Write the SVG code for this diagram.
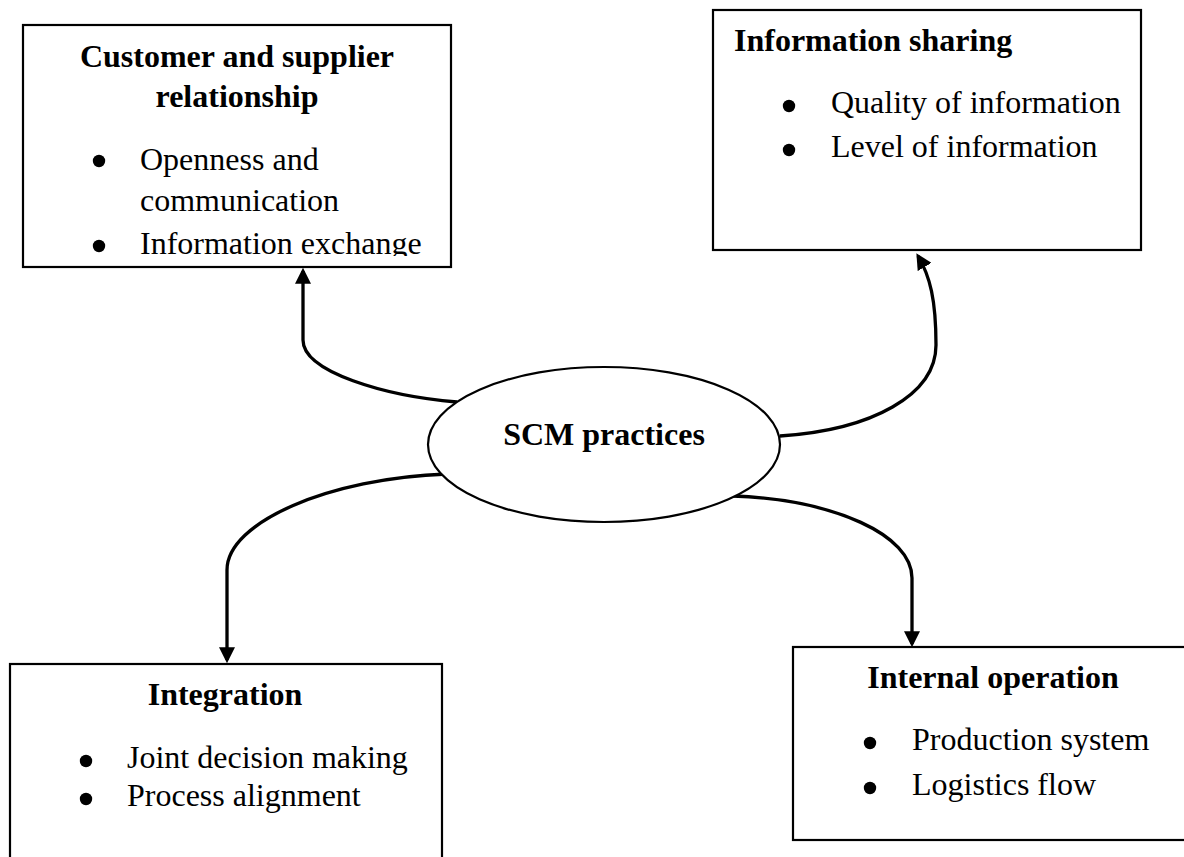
<svg xmlns="http://www.w3.org/2000/svg" width="1184" height="857" viewBox="0 0 1184 857">
<style>
.box{fill:#fff;stroke:#000;stroke-width:2.2}
.t{font-family:"Liberation Serif","Times New Roman",serif;font-size:32px;fill:#000}
.b{font-weight:bold}
.m{text-anchor:middle}
.dot{fill:#000}
.conn{fill:none;stroke:#000;stroke-width:3.3;marker-end:url(#ah)}
</style>
<defs>
<marker id="ah" markerUnits="userSpaceOnUse" markerWidth="16" markerHeight="16" viewBox="0 0 15 15" refX="12" refY="7.5" orient="auto">
<path d="M0,0 L15,7.5 L0,15 z" fill="#000"/>
</marker>
<clipPath id="c1"><rect x="23" y="25" width="428" height="231"/></clipPath>
</defs>
<rect width="1184" height="857" fill="#fff"/>
<g id="node-customer">
<rect class="box" x="23" y="25" width="428" height="242"/>
<text class="t b m" x="237" y="67">Customer and supplier</text>
<text class="t b m" x="237" y="107">relationship</text>
<circle class="dot" cx="99" cy="161" r="6.2"/>
<circle class="dot" cx="99" cy="246" r="6.2"/>
<g clip-path="url(#c1)">
<text class="t" x="140" y="170">Openness and</text>
<text class="t" x="140" y="211">communication</text>
<text class="t" x="140" y="254">Information exchange</text>
</g>
</g>
<g id="node-info">
<rect class="box" x="713" y="10" width="428" height="240"/>
<text class="t b" x="734" y="51">Information sharing</text>
<circle class="dot" cx="789" cy="106" r="6.2"/>
<text class="t" x="831" y="113">Quality of information</text>
<circle class="dot" cx="789" cy="150" r="6.2"/>
<text class="t" x="831" y="157">Level of information</text>
</g>
<g id="node-integration">
<rect class="box" x="10" y="664" width="432" height="210"/>
<text class="t b m" x="225" y="705">Integration</text>
<circle class="dot" cx="86" cy="761" r="6.2"/>
<text class="t" x="127" y="768">Joint decision making</text>
<circle class="dot" cx="86" cy="799" r="6.2"/>
<text class="t" x="127" y="806">Process alignment</text>
</g>
<g id="node-internal">
<rect class="box" x="793" y="647" width="410" height="193"/>
<text class="t b m" x="993" y="688">Internal operation</text>
<circle class="dot" cx="870" cy="743" r="6.2"/>
<text class="t" x="912" y="750">Production system</text>
<circle class="dot" cx="870" cy="788" r="6.2"/>
<text class="t" x="912" y="795">Logistics flow</text>
</g>
<g id="connectors">
<path class="conn" d="M457,402 C385,396 303,372 303,340 L303,271"/>
<path class="conn" d="M780,436 C872,430 936,395 936,345 C936,300 930,276 918,256"/>
<path class="conn" d="M447,474 C330,478 227,522 227,570 L227,660"/>
<path class="conn" d="M733,496 C835,500 912,535 912,578 L912,644"/>
</g>
<g id="node-scm">
<ellipse cx="604" cy="444.5" rx="176" ry="77.5" fill="#fff" stroke="#000" stroke-width="2.2"/>
<text class="t b m" x="604" y="445">SCM practices</text>
</g>
</svg>
